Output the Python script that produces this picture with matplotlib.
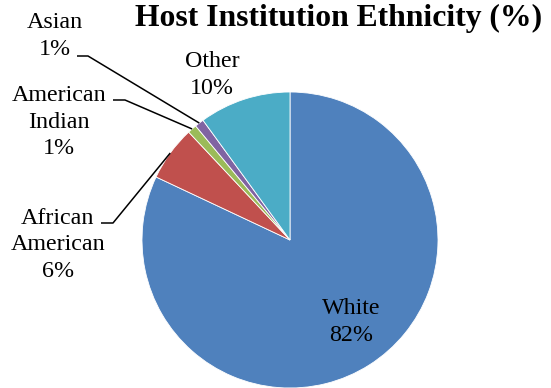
import numpy as np
import matplotlib
matplotlib.use("Agg")
import matplotlib.pyplot as plt

#%% data
categories = ["White", "African\nAmerican", "American\nIndian", "Asian", "Other"]
values = [82, 6, 1, 1, 10]
colors = ["#4F81BD", "#C0504D", "#9BBB59", "#8064A2", "#4BACC6"]
title = "Host Institution Ethnicity (%)"

#%% layout (pixel coords, y measured from top)
W, H = 551, 388
pie_center = (290, 240)
pie_radius = 148
# text centre of each label
label_pos = [(351, 322), (58, 245), (59, 122), (55, 36), (212, 75)]
# elbow of the leader line (start, end of short horizontal part), None = no leader
elbows = [None, ((101, 223), (113, 223)), ((113, 100), (125, 100)),
          ((77, 56), (88, 56)), None]

plt.rcParams['font.family'] = ['Liberation Serif', 'DejaVu Serif']

fig = plt.figure(figsize=(W / 100, H / 100), dpi=100)
ax = fig.add_axes([0, 0, 1, 1])

def fy(y):
    # flip pixel y into data y
    return H - y

wedges, _ = ax.pie(values, colors=colors, startangle=90, counterclock=False,
                   center=(pie_center[0], fy(pie_center[1])), radius=pie_radius,
                   wedgeprops=dict(edgecolor="white", linewidth=0.6))
ax.set_xlim(0, W)
ax.set_ylim(0, H)
ax.set_aspect("equal")
ax.axis("off")

for i, w in enumerate(wedges):
    txt = f"{categories[i]}\n{values[i]}%"
    lx, ly = label_pos[i]
    ax.text(lx, fy(ly), txt, ha="center", va="center", fontsize=17.3,
            linespacing=1.35, color="black")
    if elbows[i] is not None:
        mid = np.deg2rad((w.theta1 + w.theta2) / 2)
        rim = (w.center[0] + w.r * np.cos(mid), w.center[1] + w.r * np.sin(mid))
        (x0, y0), (x1, y1) = elbows[i]
        ax.plot([x0, x1, rim[0]], [fy(y0), fy(y1), rim[1]], color="black", lw=1.1,
                solid_capstyle="butt")

ax.text(338.5, fy(18), title, ha="center", va="center", fontsize=22.8, fontweight="bold")

fig.savefig("out.png", dpi=100)
